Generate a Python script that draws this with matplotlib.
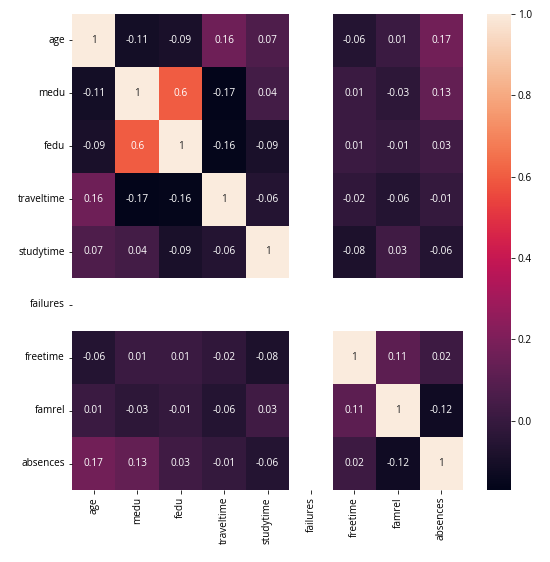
import numpy as np
import pandas as pd
import matplotlib
matplotlib.use("Agg")
import matplotlib.pyplot as plt
import seaborn as sns

NaN = np.nan
columns = ["age", "medu", "fedu", "traveltime", "studytime", "failures", "freetime", "famrel", "absences"]
age = [1, -0.11, -0.09, 0.16, 0.07, NaN, -0.06, 0.01, 0.17]
medu = [-0.11, 1, 0.6, -0.17, 0.04, NaN, 0.01, -0.03, 0.13]
fedu = [-0.09, 0.6, 1, -0.16, -0.09, NaN, 0.01, -0.01, 0.03]
traveltime = [0.16, -0.17, -0.16, 1, -0.06, NaN, -0.02, -0.06, -0.01]
studytime = [0.07, 0.04, -0.09, -0.06, 1, NaN, -0.08, 0.03, -0.06]
failures = [NaN] * 9
freetime = [-0.06, 0.01, 0.01, -0.02, -0.08, NaN, 1, 0.11, 0.02]
famrel = [0.01, -0.03, -0.01, -0.06, 0.03, NaN, 0.11, 1, -0.12]
absences = [0.17, 0.13, 0.03, -0.01, -0.06, NaN, 0.02, -0.12, 1]

corr = pd.DataFrame(
    [age, medu, fedu, traveltime, studytime, failures, freetime, famrel, absences],
    index=columns,
    columns=columns,
)

plt.rcParams["font.family"] = ["Open Sans", "DejaVu Sans"]
plt.rcParams["axes.unicode_minus"] = False

fig = plt.figure(figsize=(550 / 72, 562 / 72), dpi=72)
ax = fig.add_axes([72 / 550, 72 / 562, 391 / 550, 476 / 562])
cax = fig.add_axes([487 / 550, 72 / 562, 24 / 550, 476 / 562])

sns.heatmap(corr, annot=True, ax=ax, cbar_ax=cax, annot_kws={"fontsize": 10})
ax.tick_params(labelsize=10)
plt.setp(ax.get_yticklabels(), rotation=0)
plt.setp(ax.get_xticklabels(), rotation=90)
cax.tick_params(labelsize=10)
cax.set_yticks([0.0, 0.2, 0.4, 0.6, 0.8, 1.0])

fig.savefig("out.png", dpi=72)
